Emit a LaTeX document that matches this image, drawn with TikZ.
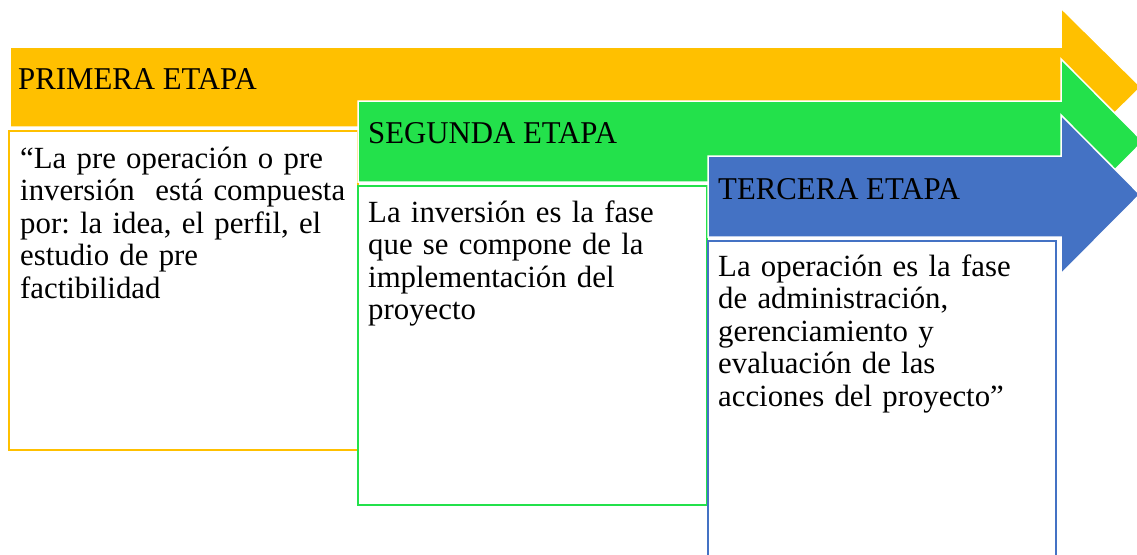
\documentclass[tikz,border=0pt]{standalone}
\usepackage{fontspec}
\setmainfont{Liberation Serif}
\frenchspacing
\definecolor{cOrange}{RGB}{255,192,0}
\definecolor{cGreen}{RGB}{35,225,75}
\definecolor{cBlue}{RGB}{68,114,196}
\tikzset{
  stagearrow/.style={draw=white, line width=1.5pt},
  stagebox/.style={fill=white, line width=2.5pt},
  headtext/.style={anchor=base west, inner sep=0pt, yscale=1.03, font=\fontsize{30.8}{32.5}\selectfont},
  bodytext/.style={anchor=base west, inner sep=0pt, text width=400pt, align=left, font=\fontsize{30.8}{32.5}\selectfont\frenchspacing},
}
\begin{document}
\begin{tikzpicture}[x=1pt,y=-1pt]
\useasboundingbox (0,0) rectangle (1137,554);
\clip (0,0) rectangle (1137,554);
% orange stage
\filldraw[stagearrow, fill=cOrange] (10,47) -- (1061,47) -- (1061,8) -- (1141,87) -- (1061,166) -- (1061,127) -- (10,127) -- cycle;
\draw[stagebox, draw=cOrange] (9,131) rectangle (358,450);
\node[headtext] (h1) at (18,89) {PRIMERA ETAPA};
\node[bodytext] (b1) at (20,168) {“La pre operación o pre\\inversión \ está compuesta\\por: la idea, el perfil, el\\estudio de pre\\factibilidad};
% green stage
\filldraw[stagearrow, fill=cGreen] (358,101) -- (1061,101) -- (1061,59) -- (1143,141.5) -- (1061,224) -- (1061,182) -- (358,182) -- cycle;
\draw[stagebox, draw=cGreen] (358,186) rectangle (707,505);
\node[headtext] (h2) at (368,143) {SEGUNDA ETAPA};
\node[bodytext] (b2) at (368,222) {La inversión es la fase\\que se compone de la\\implementación del\\proyecto};
% blue stage
\filldraw[stagearrow, fill=cBlue] (708,156) -- (1061,156) -- (1061,115) -- (1140,194.5) -- (1061,274) -- (1061,237) -- (708,237) -- cycle;
\draw[stagebox, draw=cBlue] (708,241) rectangle (1056,570);
\node[headtext] (h3) at (718,199) {TERCERA ETAPA};
\node[bodytext] (b3) at (718,276) {La operación es la fase\\de administración,\\gerenciamiento y\\evaluación de las\\acciones del proyecto”};
\end{tikzpicture}
\end{document}
